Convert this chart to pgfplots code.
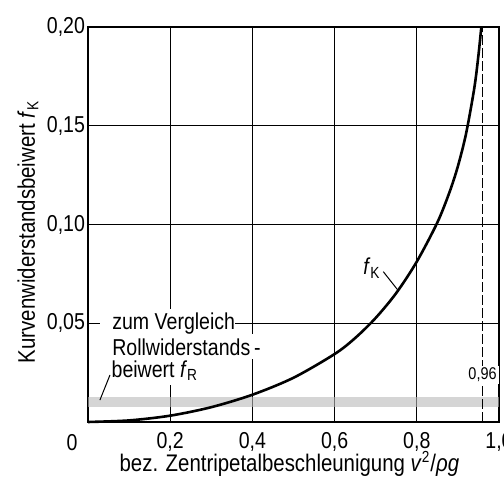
\documentclass[border=0pt]{standalone}
\usepackage{fontspec}
\setmainfont{Liberation Sans}[FakeStretch=0.85]
\usepackage{pgfplots}
\pgfplotsset{compat=1.18}
\begin{document}
\begin{tikzpicture}
\begin{axis}[
  scale only axis, width=205.5pt, height=197.5pt,
  xmin=0, xmax=1, ymin=0, ymax=0.2,
  xtick={0,0.2,0.4,0.6,0.8,1}, ytick={0,0.05,0.1,0.15,0.2},
  xticklabels={{},{0,2},{0,4},{0,6},{0,8},{1,0}},
  yticklabels={{},{0,05},{0,10},{0,15},{0,20}},
  grid=major, major grid style={black, line width=0.5pt},
  axis line style={line width=0.8pt},
  major tick length=0pt,
  tick label style={font=\fontsize{11.5}{13}\selectfont},
  xticklabel style={yshift=-1.5pt},
  yticklabel style={xshift=2pt},
  xlabel={bez. Zentripetalbeschleunigung \textit{v}\textsuperscript{2}/\textit{ρg}},
  ylabel={Kurvenwiderstandsbeiwert \textit{f}\textsubscript{K}},
  label style={font=\fontsize{12}{13}\selectfont},
  xlabel style={at={(axis description cs:0.49,-0.106)}, anchor=center},
  ylabel style={at={(axis description cs:-0.146,0.481)}, anchor=center},
  /pgf/number format/assume math mode=true,
  clip=false,
]
\coordinate (O) at (rel axis cs:0,0);
% band for f_R
\addplot[draw=none, fill=gray!55, fill opacity=0.6] coordinates {(0,0.0075) (1,0.0075) (1,0.0127) (0,0.0127)} -- cycle;
% f_K curve
\addplot[line width=1.3pt, smooth, black] coordinates {
(0,0) (0.1,0.0008) (0.2,0.0032) (0.3,0.0075) (0.4,0.0138)
(0.5,0.0224) (0.6,0.0344) (0.65,0.0425) (0.7,0.0527) (0.75,0.0653) (0.8,0.0812)
(0.85,0.1010) (0.88,0.1166) (0.9,0.1295) (0.92,0.1461) (0.94,0.1692) (0.95,0.1857) (0.957,0.20)};
% dashed line at 0.96
\addplot[black, line width=0.6pt, dash pattern=on 5pt off 1.5pt] coordinates {(0.96,0) (0.96,0.2)};
\node[fill=white, inner sep=1pt, font=\fontsize{8.5}{9}\selectfont] at (axis cs:0.96,0.024) {0,96};
% f_K label
\node[font=\fontsize{11.5}{13}\selectfont] at (axis cs:0.691,0.078) {\textit{f}\textsubscript{K}};
\draw[line width=0.5pt] (axis cs:0.7185,0.0761) -- (axis cs:0.755,0.0665);
% f_R text
\node[fill=white, anchor=base west, inner ysep=2pt, inner xsep=0pt, font=\fontsize{11.5}{13}\selectfont] at (axis cs:0.029,0.0466) {\hspace{6pt}zum Vergleich\hspace{3.5pt}};
\node[fill=white, anchor=base west, inner ysep=2pt, inner xsep=0pt, font=\fontsize{11.5}{13}\selectfont] at (axis cs:0.029,0.0339) {\hspace{6pt}Rollwiderstands\,-\hspace{2pt}};
\node[fill=white, anchor=base west, inner ysep=2pt, inner xsep=0pt, font=\fontsize{11.5}{13}\selectfont] at (axis cs:0.042,0.0226) {\hspace{3pt}beiwert \textit{f}\textsubscript{R}\hspace{3pt}};
\draw[line width=0.5pt] (axis cs:0.029,0.0111) -- (axis cs:0.0535,0.0238);
% origin label
\node[font=\fontsize{11.5}{13}\selectfont] at (axis cs:0,0) [xshift=-8pt, yshift=-10.5pt] {0};
\end{axis}
\pgfresetboundingbox
\path (O) ++(-44pt,-31.5pt) rectangle ++(252pt,242.5pt);
\end{tikzpicture}
\end{document}
